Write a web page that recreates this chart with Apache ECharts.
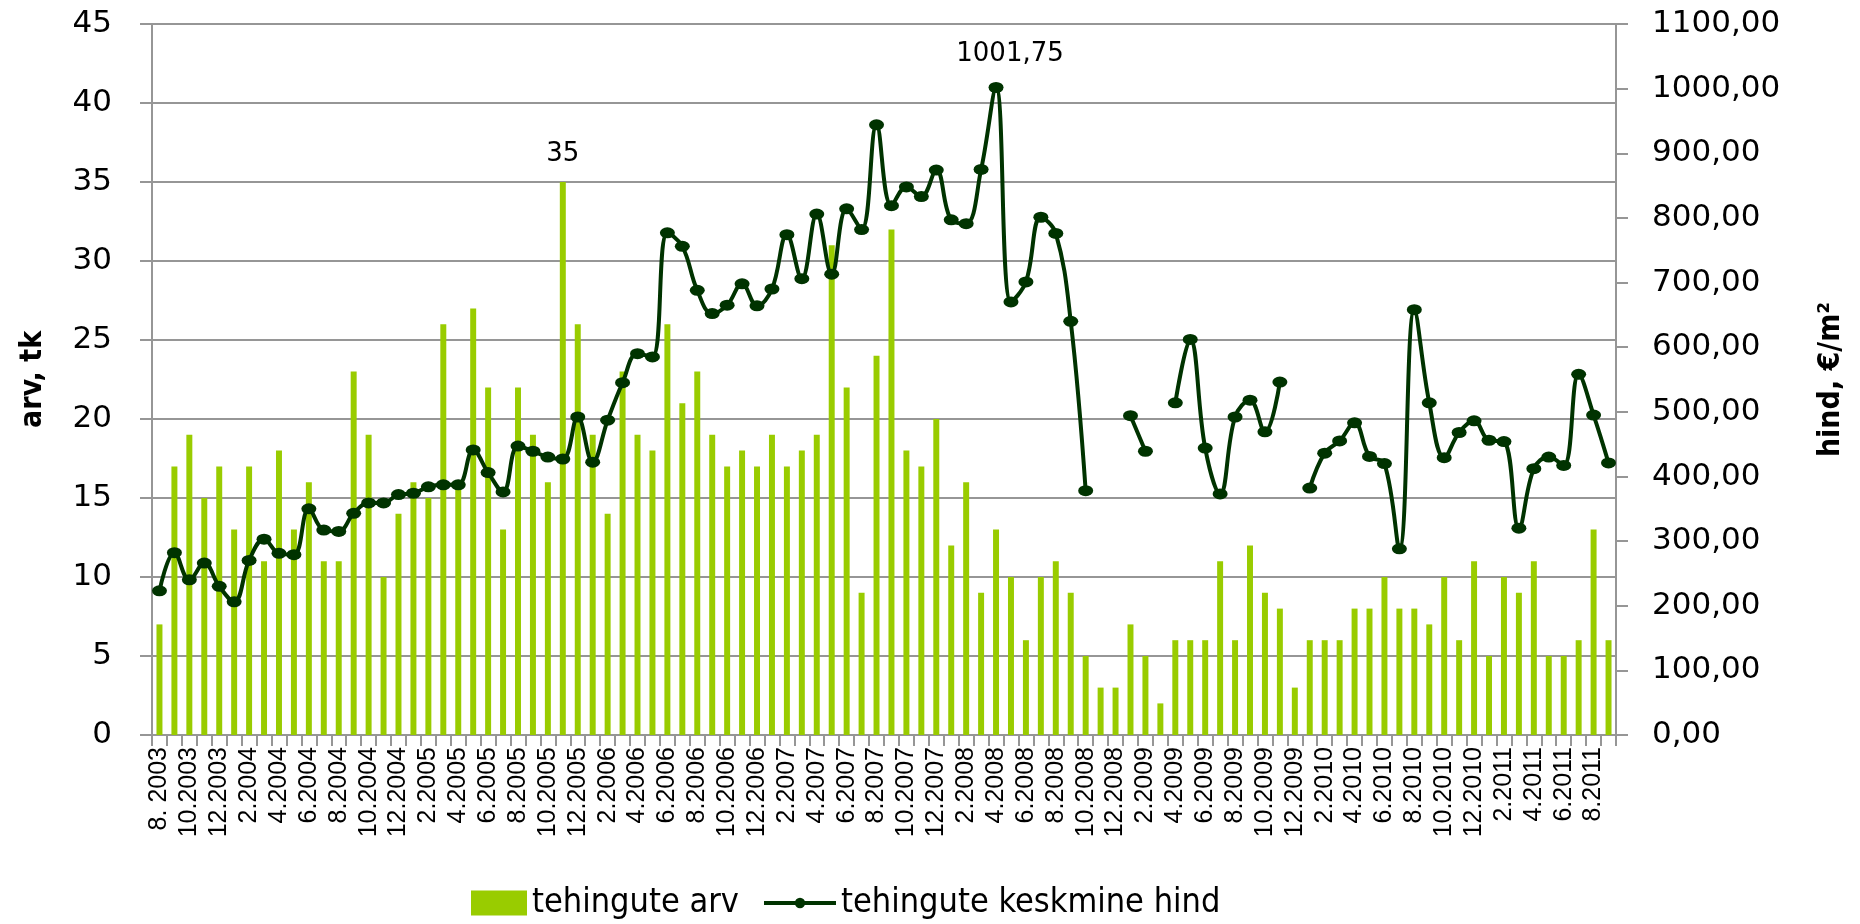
<!DOCTYPE html>
<html>
<head>
<meta charset="utf-8">
<title>Tehingud</title>
<script src="https://cdn.jsdelivr.net/npm/echarts@6/dist/echarts.min.js"></script>
<style>
  html, body { margin: 0; padding: 0; background: #ffffff; }
  #chart { width: 1860px; height: 924px; }
</style>
</head>
<body>
<div id="chart"></div>
<script>
// Months, 8.2003 ... 9.2011
const months = [
  '8. 2003','9.2003','10.2003','11.2003','12.2003',
  '1.2004','2.2004','3.2004','4.2004','5.2004','6.2004','7.2004','8.2004','9.2004','10.2004','11.2004','12.2004',
  '1.2005','2.2005','3.2005','4.2005','5.2005','6.2005','7.2005','8.2005','9.2005','10.2005','11.2005','12.2005',
  '1.2006','2.2006','3.2006','4.2006','5.2006','6.2006','7.2006','8.2006','9.2006','10.2006','11.2006','12.2006',
  '1.2007','2.2007','3.2007','4.2007','5.2007','6.2007','7.2007','8.2007','9.2007','10.2007','11.2007','12.2007',
  '1.2008','2.2008','3.2008','4.2008','5.2008','6.2008','7.2008','8.2008','9.2008','10.2008','11.2008','12.2008',
  '1.2009','2.2009','3.2009','4.2009','5.2009','6.2009','7.2009','8.2009','9.2009','10.2009','11.2009','12.2009',
  '1.2010','2.2010','3.2010','4.2010','5.2010','6.2010','7.2010','8.2010','9.2010','10.2010','11.2010','12.2010',
  '1.2011','2.2011','3.2011','4.2011','5.2011','6.2011','7.2011','8.2011','9.2011'
];

// Number of transactions per month (tk)
const dealCount = [
  7, 17, 19, 15, 17,
  13, 17, 11, 18, 13, 16, 11, 11, 23, 19, 10, 14,
  16, 15, 26, 16, 27, 22, 13, 22, 19, 16, 35, 26,
  19, 14, 23, 19, 18, 26, 21, 23, 19, 17, 18, 17,
  19, 17, 18, 19, 31, 22, 9, 24, 32, 18, 17, 20,
  12, 16, 9, 13, 10, 6, 10, 11, 9, 5, 3, 3,
  7, 5, 2, 6, 6, 6, 11, 6, 12, 9, 8, 3,
  6, 6, 6, 8, 8, 10, 8, 8, 7, 10, 6, 11,
  5, 10, 9, 11, 5, 5, 6, 13, 6
];

// Average price of transactions, EUR per m2 (null = no price for that month)
const avgPrice = [
  223, 282, 240, 266, 230,
  206, 270, 303, 281, 279, 350, 317, 315, 343, 359, 359, 372,
  374, 384, 387, 387, 441, 406, 376, 447, 439, 430, 427, 492,
  422, 487, 545, 590, 585, 777, 756, 688, 652, 665, 698, 664,
  690, 774, 706, 806, 713, 814, 782, 944, 819, 848, 833, 874,
  797, 791, 875, 1001.75, 670, 701, 801, 776, 640, 378, null, null,
  494, 439, null, 514, 612, 444, 373, 492, 518, 469, 546, null,
  382, 436, 455, 483, 431, 420, 288, 658, 514, 429, 468, 486,
  456, 454, 320, 412, 430, 417, 558, 495, 421
];

// Left axis (count) and right axis (price) scale settings
const countTicks = { min: 0, max: 45, interval: 5 };
const priceTicks = { min: 0, max: 1100, interval: 100 };

const BAR_COLOR = '#99cc00';
const LINE_COLOR = '#003300';
const GRID_COLOR = '#969696';
const TICK_FONT = '"DejaVu Sans", Verdana, sans-serif';
const NARROW_FONT = '"Liberation Sans Narrow", "DejaVu Sans Condensed", "Liberation Sans", sans-serif';

const fmtPrice = v => Number(v).toFixed(2).replace('.', ',');

// Label only the largest bar and the highest price point
const maxCount = Math.max(...dealCount);
const maxPrice = Math.max(...avgPrice.filter(v => v !== null));

const valueLabel = {
  show: true,
  position: 'top',
  distance: 15,
  color: '#000',
  fontFamily: TICK_FONT,
  fontSize: 26
};

const barData = dealCount.map(v => v === maxCount
  ? { value: v, label: Object.assign({}, valueLabel, { formatter: p => String(p.value) }) }
  : v);

const lineData = avgPrice.map(v => v === maxPrice
  ? { value: v, label: Object.assign({}, valueLabel, { offset: [14, 0], formatter: p => fmtPrice(p.value) }) }
  : v);

const legendText = { fontFamily: NARROW_FONT, fontSize: 34, color: '#000' };

const chart = echarts.init(document.getElementById('chart'), null, { renderer: 'canvas' });

chart.setOption({
  animation: false,
  backgroundColor: '#ffffff',
  grid: { left: 152, right: 244, top: 24, bottom: 189 },
  // Two legend blocks so the bar swatch and the line-with-dot icon get their own sizes
  legend: [
    {
      left: 466,
      top: 881,
      itemWidth: 56,
      itemHeight: 25,
      textStyle: legendText,
      data: [{ name: 'tehingute arv', icon: 'rect' }]
    },
    {
      left: 757,
      top: 881,
      itemWidth: 72,
      itemHeight: 13,
      lineStyle: { width: 4 },
      textStyle: legendText,
      data: [{ name: 'tehingute keskmine hind' }]
    }
  ],
  xAxis: {
    type: 'category',
    data: months,
    boundaryGap: true,
    axisLine: { lineStyle: { color: GRID_COLOR, width: 2 } },
    axisTick: { show: true, interval: 0, length: 11, lineStyle: { color: GRID_COLOR, width: 2 } },
    axisLabel: {
      interval: 1,
      rotate: 90,
      margin: 12,
      color: '#000',
      fontFamily: '"Liberation Sans", Arial, sans-serif',
      fontSize: 25
    },
    splitLine: { show: false }
  },
  yAxis: [
    {
      type: 'value',
      min: countTicks.min,
      max: countTicks.max,
      interval: countTicks.interval,
      name: 'arv, tk',
      nameLocation: 'middle',
      nameRotate: 90,
      nameGap: 104,
      nameTextStyle: { fontFamily: NARROW_FONT, fontWeight: 'bold', fontSize: 30, color: '#000' },
      axisLine: { show: true, lineStyle: { color: GRID_COLOR, width: 2 } },
      axisTick: { show: true, length: 12, lineStyle: { color: GRID_COLOR, width: 2 } },
      axisLabel: { margin: 40, color: '#000', fontFamily: TICK_FONT, fontSize: 31 },
      splitLine: { show: true, lineStyle: { color: GRID_COLOR, width: 2 } }
    },
    {
      type: 'value',
      position: 'right',
      min: priceTicks.min,
      max: priceTicks.max,
      interval: priceTicks.interval,
      name: 'hind, €/m²',
      nameLocation: 'middle',
      nameRotate: 90,
      nameGap: 200,
      nameTextStyle: { fontFamily: NARROW_FONT, fontWeight: 'bold', fontSize: 30, color: '#000' },
      axisLine: { show: true, lineStyle: { color: GRID_COLOR, width: 2 } },
      axisTick: { show: true, length: 12, lineStyle: { color: GRID_COLOR, width: 2 } },
      axisLabel: { margin: 36, color: '#000', fontFamily: TICK_FONT, fontSize: 31, formatter: fmtPrice },
      splitLine: { show: false }
    }
  ],
  series: [
    {
      name: 'tehingute arv',
      type: 'bar',
      yAxisIndex: 0,
      data: barData,
      barWidth: '40%',
      itemStyle: { color: BAR_COLOR }
    },
    {
      name: 'tehingute keskmine hind',
      type: 'line',
      yAxisIndex: 1,
      data: lineData,
      smooth: 0.4,
      connectNulls: false,
      symbol: 'circle',
      symbolSize: [15, 11],
      showAllSymbol: true,
      lineStyle: { color: LINE_COLOR, width: 4 },
      itemStyle: { color: LINE_COLOR },
      z: 3
    }
  ]
});
</script>
</body>
</html>
